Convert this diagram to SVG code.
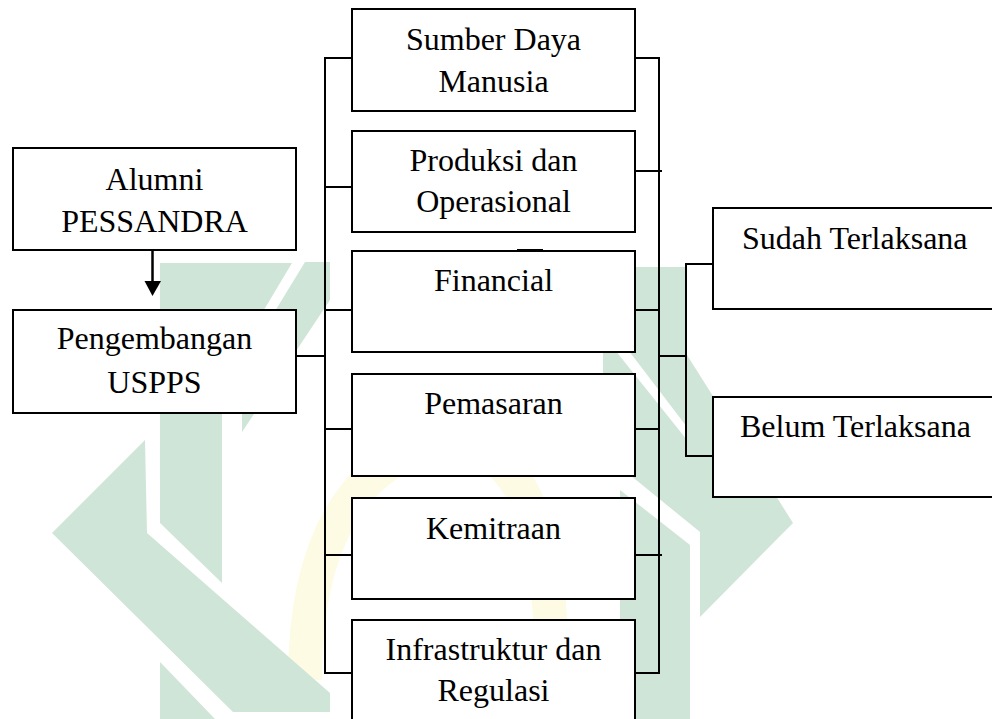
<svg xmlns="http://www.w3.org/2000/svg" width="992" height="719" viewBox="0 0 992 719">
<style>
.box{fill:#fff;stroke:#000;stroke-width:2}
.ln{stroke:#000;stroke-width:2;fill:none}
.t{font-family:"Liberation Serif","Times New Roman",serif;font-size:32px;fill:#000}
.c{text-anchor:middle}
.wm{fill:#cfe5d8}
</style>
<rect width="992" height="719" fill="#fff"/>
<g id="watermark">
<path d="M305,680 C305,500 390,445 450,445 C520,445 552,520 552,680" fill="none" stroke="#fdfbe4" stroke-width="34"/>
<polygon class="wm" points="160,263 292,263 222,380 222,583 160,523"/>
<polygon class="wm" points="242,432 242,365 305,262 330,262 330,300"/>
<polygon class="wm" points="52,533 145,440 147,533 330,693 330,712 233,712"/>
<polygon class="wm" points="160,662 215,719 160,719"/>
<polygon class="wm" points="590,267 687,267 687,427 590,300"/>
<polygon class="wm" points="603,335 687,440 687,355 793,523 700,617 700,532 630,475 603,452"/>
<polygon class="wm" points="620,490 690,545 690,719 620,719"/>
</g>
<g id="connectors">
<line x1="152.5" y1="250" x2="152.5" y2="284" stroke="#000" stroke-width="2.5"/>
<polygon points="144.5,281 161,281 152.5,296" fill="#000"/>
<line class="ln" x1="296" y1="356" x2="325" y2="356"/>
<line class="ln" x1="325" y1="57" x2="325" y2="674"/>
<line class="ln" x1="325" y1="58" x2="352" y2="58"/>
<line class="ln" x1="325" y1="187" x2="352" y2="187"/>
<line class="ln" x1="325" y1="310" x2="352" y2="310"/>
<line class="ln" x1="325" y1="429" x2="352" y2="429"/>
<line class="ln" x1="325" y1="555" x2="352" y2="555"/>
<line class="ln" x1="325" y1="673" x2="352" y2="673"/>
<line class="ln" x1="659" y1="57" x2="659" y2="674"/>
<line class="ln" x1="632" y1="58" x2="659" y2="58"/>
<line class="ln" x1="635" y1="171" x2="662" y2="171"/>
<line class="ln" x1="635" y1="310" x2="659" y2="310"/>
<line class="ln" x1="635" y1="429" x2="659" y2="429"/>
<line class="ln" x1="635" y1="555" x2="662" y2="555"/>
<line class="ln" x1="635" y1="673" x2="659" y2="673"/>
<line class="ln" x1="659" y1="356" x2="686" y2="356"/>
<line class="ln" x1="686" y1="263" x2="686" y2="457"/>
<line class="ln" x1="686" y1="264" x2="713" y2="264"/>
<line class="ln" x1="686" y1="456" x2="713" y2="456"/>
</g>
<g id="alumni"><rect class="box" x="13" y="148" width="283" height="102"/><text class="t c" x="154.5" y="190">Alumni</text><text class="t c" x="154.5" y="232">PESSANDRA</text></g>
<g id="pengembangan"><rect class="box" x="13" y="310" width="283" height="103"/><text class="t c" x="154.5" y="349">Pengembangan</text><text class="t c" x="154.5" y="393">USPPS</text></g>
<g id="sdm"><rect class="box" x="352" y="9" width="283" height="102"/><text class="t c" x="493.5" y="50">Sumber Daya</text><text class="t c" x="493.5" y="92">Manusia</text></g>
<g id="produksi"><rect class="box" x="352" y="131" width="283" height="101"/><text class="t c" x="493.5" y="171">Produksi dan</text><text class="t c" x="493.5" y="212">Operasional</text></g>
<g id="financial"><rect class="box" x="352" y="251" width="283" height="101"/><line x1="517" y1="250.5" x2="543" y2="250.5" stroke="#000" stroke-width="3"/><text class="t c" x="493.5" y="291">Financial</text></g>
<g id="pemasaran"><rect class="box" x="352" y="374" width="283" height="102"/><text class="t c" x="493.5" y="414">Pemasaran</text></g>
<g id="kemitraan"><rect class="box" x="352" y="498" width="283" height="101"/><text class="t c" x="493.5" y="539">Kemitraan</text></g>
<g id="infrastruktur"><rect class="box" x="352" y="620" width="283" height="112"/><text class="t c" x="493.5" y="660">Infrastruktur dan</text><text class="t c" x="493.5" y="701">Regulasi</text></g>
<g id="sudah"><rect class="box" x="713" y="208" width="300" height="101"/><text class="t" x="742" y="249">Sudah Terlaksana</text></g>
<g id="belum"><rect class="box" x="713" y="397" width="300" height="100"/><text class="t" x="740" y="437">Belum Terlaksana</text></g>
</svg>
